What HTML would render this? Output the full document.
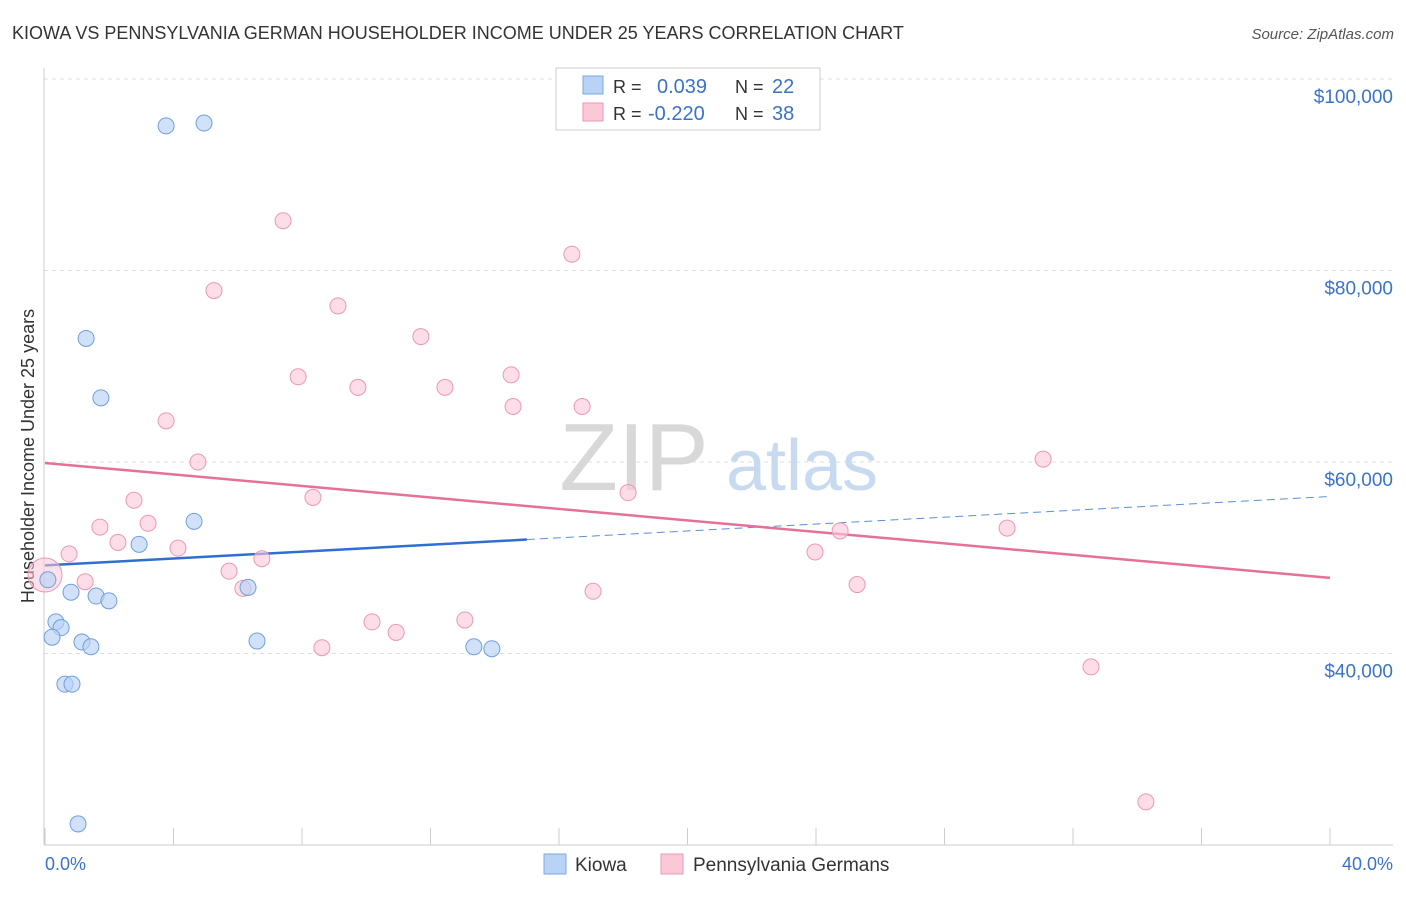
<!DOCTYPE html>
<html><head><meta charset="utf-8">
<style>
body{margin:0;background:#fff;font-family:"Liberation Sans",sans-serif;}
svg text{font-family:"Liberation Sans",sans-serif;}
</style></head>
<body>
<svg id="chart" width="1406" height="892" xmlns="http://www.w3.org/2000/svg">
<text x="12" y="39" font-size="18" fill="#333">KIOWA VS PENNSYLVANIA GERMAN HOUSEHOLDER INCOME UNDER 25 YEARS CORRELATION CHART</text>
<text x="1394" y="39" font-size="15" fill="#555" font-style="italic" text-anchor="end">Source: ZipAtlas.com</text>
<g id="grid"></g>
<g>
<text x="634" y="490" font-size="96" fill="#d8d8d8" font-family="Liberation Serif" text-anchor="middle">ZIP</text>
<text x="802" y="490" font-size="72" fill="#c8daf0" text-anchor="middle">atlas</text>
</g>
<line x1="44" y1="68" x2="44" y2="845" stroke="#ccc"/>
<line x1="44" y1="845" x2="1393" y2="845" stroke="#ccc"/>
<g id="xticks"></g>
<g id="ylabels"></g>
<text x="45" y="870" font-size="18" fill="#3a73c8">0.0%</text>
<text x="1393" y="870" font-size="18" fill="#3a73c8" text-anchor="end">40.0%</text>
<text transform="translate(34,456) rotate(-90)" font-size="18" fill="#333" text-anchor="middle">Householder Income Under 25 years</text>
<g id="trends"></g>
<g id="points"></g>
<g>
<rect x="556" y="68" width="264" height="62" fill="#fff" stroke="#ccc"/>
<rect x="583" y="76" width="20" height="18" fill="#b8d3f5" stroke="#7aa8e0"/>
<rect x="583" y="103" width="20" height="18" fill="#fbc8d8" stroke="#ec97b4"/>
<text x="613" y="93" font-size="18" fill="#333">R = </text><text x="657" y="93" font-size="20" fill="#3a73c8">0.039</text>
<text x="735" y="93" font-size="18" fill="#333">N = </text><text x="772" y="93" font-size="20" fill="#3a73c8">22</text>
<text x="613" y="120" font-size="18" fill="#333">R = </text><text x="648" y="120" font-size="20" fill="#3a73c8">-0.220</text>
<text x="735" y="120" font-size="18" fill="#333">N = </text><text x="772" y="120" font-size="20" fill="#3a73c8">38</text>
</g>
<g>
<rect x="544" y="854" width="22" height="20" fill="#b8d3f5" stroke="#7aa8e0"/>
<text x="575" y="871" font-size="19" fill="#333">Kiowa</text>
<rect x="661" y="854" width="22" height="20" fill="#fbc8d8" stroke="#ec97b4"/>
<text x="693" y="871" font-size="19" fill="#333">Pennsylvania Germans</text>
</g>
</svg>
<script>
const yTicks=[40000,60000,80000,100000];
const yTickLabels=["$40,000","$60,000","$80,000","$100,000"];
const xTicks=[0,4,8,12,16,20,24,28,32,36,40];
const kiowaX=[3.77,4.95,1.28,1.74,4.64,2.93,0.09,0.81,1.59,1.99,0.34,0.50,0.22,1.15,1.43,6.60,6.32,13.35,13.91,0.62,0.84,1.03];
const kiowaY=[95.1,95.4,72.9,66.7,53.8,51.4,47.7,46.4,46.0,45.5,43.3,42.7,41.7,41.2,40.7,41.3,46.9,40.7,40.5,36.8,36.8,22.2];
const paX=[7.41,16.40,5.26,9.12,11.70,7.88,9.74,12.45,14.51,14.57,16.72,3.77,4.76,31.07,18.15,2.77,8.34,1.71,3.21,2.27,4.14,29.95,24.75,23.97,6.75,0.75,5.73,6.16,1.25,25.28,17.06,10.18,10.93,13.07,8.62,32.56,34.27,0];
const paY=[85.2,81.7,77.9,76.3,73.1,68.9,67.8,67.8,69.1,65.8,65.8,64.3,60.0,60.3,56.8,56.0,56.3,53.2,53.6,51.6,51.0,53.1,52.8,50.6,49.9,50.4,48.6,46.8,47.5,47.2,46.5,43.3,42.2,43.5,40.6,38.6,24.5,48.2];
const kiowaTrend=[49.2,56.4]; // value at 0% and 40%
const paTrend=[59.9,47.9];
const kiowaSolidEnd=15;

const NS="http://www.w3.org/2000/svg";
const sx=v=>45+v/40*1285;
const sy=v=>79+(100-v)/20*191.5; // v in $k
function mk(tag,attrs,parent){const e=document.createElementNS(NS,tag);for(const k in attrs)e.setAttribute(k,attrs[k]);parent.appendChild(e);return e;}
const grid=document.getElementById('grid'),yl=document.getElementById('ylabels'),xt=document.getElementById('xticks');
yTicks.forEach((t,i)=>{
  const y=sy(t/1000);
  const l=mk('line',{x1:44,x2:1393,y1:y,y2:y,stroke:'#ddd','stroke-dasharray':'4,4'},grid);
  
  
  const tx=mk('text',{x:1393,y:y+24,'font-size':19,fill:'#3a73c8','text-anchor':'end'},yl);
  tx.textContent=yTickLabels[i];
  
  
});
xTicks.forEach(t=>{
  const x=sx(t);
  const l=mk('line',{x1:x,x2:x,y1:828,y2:845,stroke:'#ccc'},xt);
  
  
});
const tr=document.getElementById('trends');
const kyAt=x=>kiowaTrend[0]+(kiowaTrend[1]-kiowaTrend[0])*x/40;
let l1=mk('line',{x1:sx(0),y1:sy(kyAt(0)),x2:sx(kiowaSolidEnd),y2:sy(kyAt(kiowaSolidEnd)),stroke:'#2e6fd0','stroke-width':2.5},tr);


let l2=mk('line',{x1:sx(kiowaSolidEnd),y1:sy(kyAt(kiowaSolidEnd)),x2:sx(40),y2:sy(kyAt(40)),stroke:'#5a8fd8','stroke-width':1,'stroke-dasharray':'8,5'},tr);


let l3=mk('line',{x1:sx(0),y1:sy(paTrend[0]),x2:sx(40),y2:sy(paTrend[1]),stroke:'#e5709a','stroke-width':2.5},tr);


const pts=document.getElementById('points');
paX.forEach((x,i)=>{
  const big=(i===paX.length-1);
  const c=mk('circle',{cx:sx(x),cy:sy(paY[i]),r:big?17:8,fill:'#fbc8d8','fill-opacity':big?0.55:0.6,stroke:'#ec97b4','stroke-width':1},pts);
  
  
});
kiowaX.forEach((x,i)=>{
  const c=mk('circle',{cx:sx(x),cy:sy(kiowaY[i]),r:8,fill:'#b8d3f5','fill-opacity':0.65,stroke:'#6f9fdc','stroke-width':1},pts);
  
  
});
</script>
</body></html>
